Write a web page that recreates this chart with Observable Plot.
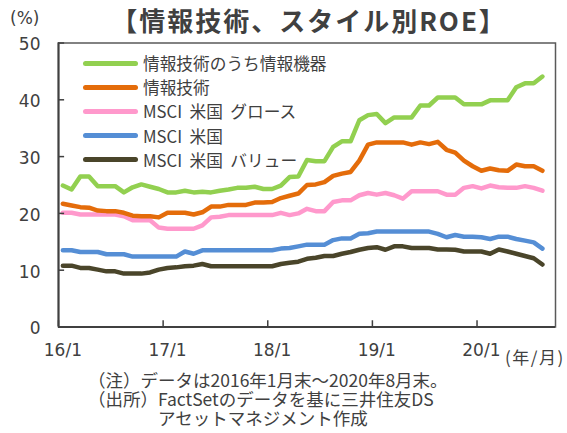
<!DOCTYPE html>
<html><head><meta charset="utf-8">
<script src="https://cdn.jsdelivr.net/npm/d3@7"></script>
<script src="https://cdn.jsdelivr.net/npm/@observablehq/plot@0.6"></script>
<style>
body{margin:0;background:#fff;}
#wrap{position:relative;width:567px;height:433px;overflow:hidden;font-family:"Noto Sans CJK JP",sans-serif;color:#404040;}
#wrap svg{position:absolute;left:0;top:0;}
.abs{position:absolute;white-space:pre;}
#legend{position:absolute;left:83px;top:51px;width:420px;height:130px;}
#legend .row{position:absolute;left:0;height:24px;display:flex;align-items:center;white-space:nowrap;width:420px;}
#legend .sw{width:55px;height:5px;border-radius:3px;margin-right:5px;flex:none;}
#legend .lab{font-size:16.7px;line-height:24px;white-space:pre;}
</style></head>
<body><div id="wrap"></div>
<script>
const title = "【情報技術、スタイル別ROE】";
const unitY = "(%)";
const unitX = "(年/月)";
const notes = ["（注）データは2016年1月末～2020年8月末。","（出所）FactSetのデータを基に三井住友DS","　　　　アセットマネジメント作成"];
const xTickLabels = ["16/1","17/1","18/1","19/1","20/1"];
const yTicks = [0,10,20,30,40,50];
const seriesNames = ["情報技術のうち情報機器","情報技術","MSCI  米国  グロース","MSCI  米国","MSCI  米国  バリュー"];
const seriesColors = ["#92D050","#E46C0A","#FF99CC","#558ED5","#4A452A"];
const infoEquip = [24.9,24.2,26.5,26.5,24.8,24.8,24.8,23.7,24.6,25.1,24.7,24.3,23.7,23.7,24.0,23.7,23.8,23.7,24.0,24.2,24.5,24.5,24.7,24.3,24.3,24.9,26.4,26.5,29.4,29.2,29.2,31.7,32.7,32.7,36.4,37.3,37.5,35.9,36.9,36.9,36.9,39.0,39.0,40.4,40.4,40.4,39.2,39.2,39.2,39.9,39.9,39.9,42.2,42.9,42.9,44.1];
const infoTech = [21.7,21.4,21.1,21.0,20.5,20.4,20.4,20.1,19.6,19.5,19.5,19.3,20.1,20.1,20.1,19.8,20.2,21.2,21.2,21.5,21.5,21.5,21.9,21.9,22.0,22.7,23.1,23.5,25.0,25.1,25.5,26.6,27.0,27.3,29.3,32.1,32.5,32.5,32.5,32.5,32.1,32.5,32.2,32.6,31.2,30.7,29.3,28.3,27.5,27.9,27.6,27.5,28.6,28.3,28.3,27.5];
const growth = [20.1,20.1,19.8,19.8,19.8,19.8,19.8,19.5,18.8,18.8,18.8,17.5,17.3,17.3,17.3,17.3,17.9,19.3,19.4,19.7,19.7,19.7,19.7,19.7,19.7,20.1,19.7,20.0,20.8,20.4,20.4,22.0,22.3,22.3,23.2,23.6,23.3,23.6,23.2,22.6,23.9,23.9,23.9,23.9,23.3,23.3,24.5,24.8,24.4,24.9,24.6,24.5,24.5,24.8,24.5,24.0];
const usa = [13.5,13.5,13.2,13.2,13.2,12.8,12.8,12.8,12.4,12.4,12.4,12.4,12.4,12.4,13.3,12.9,13.5,13.5,13.5,13.5,13.5,13.5,13.5,13.5,13.5,13.8,13.9,14.2,14.5,14.5,14.5,15.3,15.6,15.6,16.4,16.5,16.8,16.8,16.8,16.8,16.8,16.8,16.8,16.4,15.8,16.2,15.9,15.9,15.8,15.5,15.9,15.9,15.5,15.2,14.9,13.8];
const value = [10.8,10.8,10.4,10.4,10.1,9.8,9.8,9.4,9.4,9.4,9.6,10.1,10.4,10.5,10.7,10.8,11.1,10.7,10.7,10.7,10.7,10.7,10.7,10.7,10.7,11.1,11.3,11.5,12.0,12.2,12.5,12.5,12.9,13.2,13.6,13.9,14.05,13.6,14.2,14.2,13.9,13.9,13.9,13.65,13.65,13.6,13.3,13.3,13.3,12.9,13.65,13.3,12.9,12.5,12.1,11.0];

const allSeries = [infoEquip, infoTech, growth, usa, value];
const rows = [];
allSeries.forEach((arr, s) => arr.forEach((v, i) => rows.push({s, i, v})));
const drawOrder = [4,3,2,1,0];
const xTickPos = xTickLabels.map((d,k)=>k*12-0.5);
const xLabelPos = xTickLabels.map((d,k)=>({label:d, i:k*12}));

const plot = Plot.plot({
  width:567, height:433,
  marginLeft:58, marginRight:12, marginTop:42.5, marginBottom:106.5,
  x:{domain:[-0.5,56.5], axis:null},
  y:{domain:[0,50], axis:null},
  style:{background:"transparent"},
  marks:[
    Plot.frame({stroke:"#595959", strokeWidth:1.5}),
    ...drawOrder.map(s => Plot.line(rows.filter(r=>r.s===s), {x:"i", y:"v", stroke:seriesColors[s], strokeWidth:4.5, strokeLinecap:"round", strokeLinejoin:"round"})),
    Plot.ruleY(yTicks, {y:d=>d, x1:-0.5, x2:0.2, stroke:"#404040", strokeWidth:1.5}),
    Plot.ruleX(xTickPos, {x:d=>d, y1:0, y2:1.1, stroke:"#404040", strokeWidth:1.5}),
    Plot.ruleX([-0.5], {stroke:"#404040", strokeWidth:2}),
    Plot.ruleY([0], {stroke:"#404040", strokeWidth:2}),
    Plot.text(yTicks, {y:d=>d, text:d=>String(d), frameAnchor:"left", dx:-18, dy:2, textAnchor:"end", fontSize:17, fontFamily:"DejaVu Sans", fill:"#404040"}),
    Plot.text(xLabelPos, {x:"i", text:"label", frameAnchor:"bottom", dy:29, fontSize:17, fontFamily:"DejaVu Sans", fill:"#404040"})
  ]
});
const wrap = document.getElementById("wrap");
wrap.appendChild(plot);

function addDiv(text, style){
  const d = document.createElement("div");
  d.className = "abs";
  d.textContent = text;
  Object.assign(d.style, style);
  wrap.appendChild(d);
  return d;
}
addDiv(title, {left:"309px", transform:"translateX(-50%)", top:"0.5px", fontSize:"26px", fontWeight:"bold", lineHeight:"normal", letterSpacing:"2px"});
addDiv(unitY, {left:"10px", top:"8px", fontSize:"17px", fontFamily:"DejaVu Sans", lineHeight:"20px"});
addDiv(unitX, {left:"505px", top:"347px", fontSize:"17px", lineHeight:"20px", letterSpacing:"1.5px"});
addDiv(notes.join("\n"), {left:"88px", top:"370px", fontSize:"17.5px", lineHeight:"19px"});

const legend = document.createElement("div");
legend.id = "legend";
seriesNames.forEach((name, s) => {
  const r = document.createElement("div");
  r.className = "row";
  r.style.top = (s*24.2) + "px";
  const sw = document.createElement("div");
  sw.className = "sw"; sw.style.background = seriesColors[s];
  const lab = document.createElement("span");
  lab.className = "lab"; lab.textContent = name;
  r.appendChild(sw); r.appendChild(lab);
  legend.appendChild(r);
});
wrap.appendChild(legend);
</script></body></html>
